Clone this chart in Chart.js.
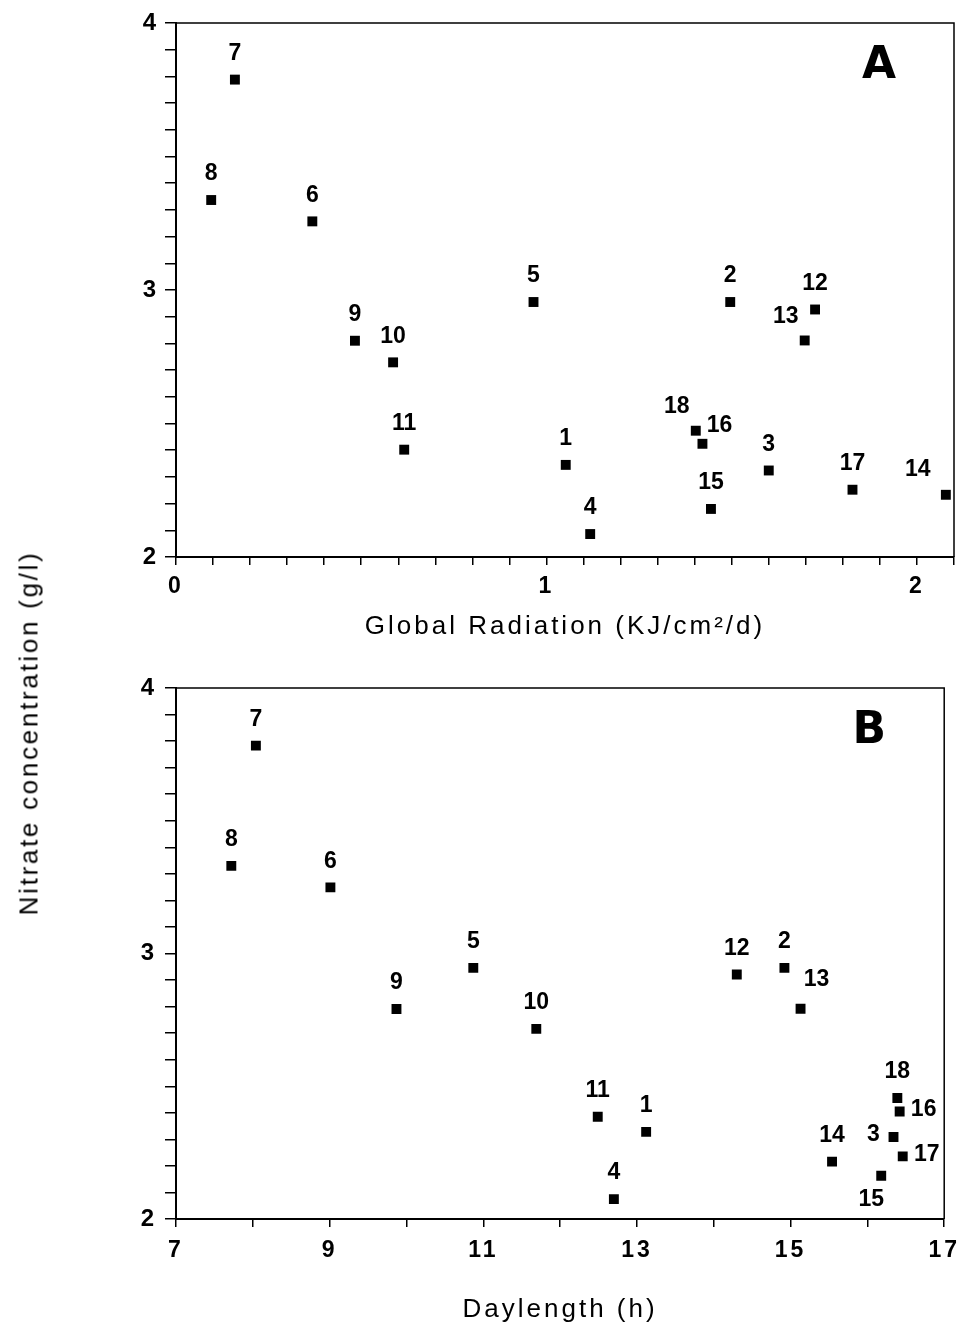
<!DOCTYPE html>
<html>
<head>
<meta charset="utf-8">
<script src="https://cdn.jsdelivr.net/npm/chart.js@4.4.1/dist/chart.umd.min.js"></script>
<style>
html,body{margin:0;padding:0;background:#fff;}
#wrap{position:relative;width:967px;height:1331px;overflow:hidden;background:#fff;}
#cA{position:absolute;left:0;top:0;}
#cB{position:absolute;left:0;top:665px;}
#ytitle{position:absolute;left:29px;top:733px;transform:translate(-50%,-50%) rotate(-90deg);
  font:26px "Liberation Sans",Arial,sans-serif;letter-spacing:2.7px;white-space:nowrap;color:#000;}
</style>
</head>
<body>
<div id="wrap">
  <canvas id="cA" width="967" height="665"></canvas>
  <canvas id="cB" width="967" height="666"></canvas>
  <div id="ytitle">Nitrate concentration (g/l)</div>
</div>
<script>
// ---- data ----
const sampleIds = ['1','2','3','4','5','6','7','8','9','10','11','12','13','14','15','16','17','18'];
const globalRadiation = [1.052, 1.496, 1.600, 1.118, 0.965, 0.368, 0.159, 0.095, 0.483, 0.586, 0.616, 1.725, 1.697, 2.078, 1.444, 1.421, 1.826, 1.403];
const nitrateA = [2.345, 2.955, 2.324, 2.086, 2.955, 3.257, 3.788, 3.337, 2.810, 2.729, 2.402, 2.927, 2.811, 2.233, 2.180, 2.424, 2.252, 2.473];
const daylength = [13.12, 14.92, 16.34, 12.70, 10.87, 9.01, 8.04, 7.72, 9.87, 11.69, 12.49, 14.30, 15.13, 15.54, 16.18, 16.42, 16.46, 16.39];
const nitrateB = [2.328, 2.946, 2.309, 2.075, 2.946, 3.249, 3.783, 3.330, 2.791, 2.716, 2.385, 2.921, 2.792, 2.216, 2.163, 2.405, 2.236, 2.456];
const yTickLabels = ['2', '3', '4'];
const xTickLabelsA = ['0', '1', '2'];
const xTickLabelsB = ['7', '9', '11', '13', '15', '17'];
const panelA = 'A';
const panelB = 'B';
const xTitleA = 'Global Radiation (KJ/cm\u00B2/d)';
const xTitleB = 'Daylength (h)';
// label placement (style only)
const placeA = ['N','N','N','N','N','N','N','N','N','N','N','N','NW','WNW','N','NE','N','NW'];
const placeB = ['N','N','W','N','N','N','N','N','N','N','N','N','NNE','N','SW','E','E','N'];

const FONT = '"Liberation Sans", Arial, Helvetica, sans-serif';
const HEAVY = '"DejaVu Sans", "Liberation Sans", sans-serif';
const OFFS = {N:[0,-26], NW:[-19,-24], WNW:[-28,-25], NE:[17,-18], NNE:[16,-29], E:[24,-2], W:[-20,-2], SW:[-10,24]};

function labelOf(list, v){
  const s = String(Math.round(v));
  return (Math.abs(v - Math.round(v)) < 1e-6 && list.includes(s)) ? s : '';
}

const spacingPlugin = {
  id: 'spacing',
  beforeDraw(chart){ chart.ctx.letterSpacing = '3px'; },
  beforeDatasetsDraw(chart){ chart.ctx.letterSpacing = '0px'; }
};

function framePlugin(panelText, places){
  return {
    id: 'frame',
    afterDatasetsDraw(chart){
      const {ctx, chartArea:a} = chart;
      ctx.save();
      ctx.letterSpacing = '0px';
      ctx.strokeStyle = '#000';
      ctx.lineWidth = 1.5;
      ctx.beginPath();
      ctx.moveTo(a.left, a.top); ctx.lineTo(a.right, a.top); ctx.lineTo(a.right, a.bottom);
      ctx.stroke();
      // point labels
      const meta = chart.getDatasetMeta(0);
      ctx.fillStyle = '#000';
      ctx.font = 'bold 23px ' + FONT;
      ctx.textAlign = 'center';
      ctx.textBaseline = 'middle';
      meta.data.forEach((pt, i) => {
        const o = OFFS[places[i]];
        ctx.fillText(sampleIds[i], pt.x + o[0], pt.y + o[1]);
      });
      // panel letter
      ctx.font = 'bold 44px ' + HEAVY;
      ctx.textBaseline = 'alphabetic';
      ctx.fillText(panelText, a.right - 75, a.top + 55);
      ctx.restore();
    }
  };
}

function makeChart(id, xs, ys, cfg){
  const pts = xs.map((x, i) => ({x: x, y: ys[i]}));
  return new Chart(document.getElementById(id), {
    type: 'scatter',
    data: { datasets: [{ data: pts, pointStyle: 'rect', pointRadius: 7, pointHoverRadius: 7,
      backgroundColor: '#000', borderColor: '#000', borderWidth: 0 }] },
    options: {
      responsive: false, animation: false,
      events: [],
      layout: { padding: { top: 23, right: cfg.padRight, left: 0, bottom: 0 } },
      plugins: { legend: { display: false }, tooltip: { enabled: false } },
      scales: {
        x: {
          type: 'linear', min: cfg.xmin, max: cfg.xmax,
          ticks: { stepSize: cfg.xstep, autoSkip: false, maxRotation: 0, color: '#000', padding: cfg.xpad,
            font: { family: FONT, size: 23, weight: 'bold' },
            callback: v => labelOf(cfg.xlabels, v) },
          grid: { drawOnChartArea: false, drawTicks: true, tickLength: 8, color: '#000', lineWidth: 1.5 },
          border: { display: true, color: '#000', width: 2 },
          title: { display: true, text: cfg.xtitle, color: '#000', font: { family: FONT, size: 26 },
            padding: { top: 0, bottom: cfg.titlePad } },
          afterFit: s => { s.height = cfg.xh; }
        },
        y: {
          type: 'linear', min: 2, max: 4,
          ticks: { stepSize: 0.1, autoSkip: false, color: '#000', padding: cfg.ypad,
            font: { family: FONT, size: 24, weight: 'bold' },
            callback: v => labelOf(yTickLabels, v) },
          grid: { drawOnChartArea: false, drawTicks: true, tickLength: 11, color: '#000', lineWidth: 1.5 },
          border: { display: true, color: '#000', width: 2 },
          afterFit: s => { s.width = 176; }
        }
      }
    },
    plugins: [spacingPlugin, framePlugin(cfg.panel, cfg.places)]
  });
}

makeChart('cA', globalRadiation, nitrateA, {
  xmin: 0, xmax: 2.1, xstep: 0.1, xlabels: xTickLabelsA, xtitle: xTitleA,
  padRight: 13, xh: 108, xpad: 8, titlePad: 23, ypad: 6, panel: panelA, places: placeA
});
makeChart('cB', daylength, nitrateB, {
  xmin: 7, xmax: 17, xstep: 1, xlabels: xTickLabelsB, xtitle: xTitleB,
  padRight: 15, xh: 112, xpad: 10, titlePad: 6, ypad: 8, panel: panelB, places: placeB
});
</script>
</body>
</html>
